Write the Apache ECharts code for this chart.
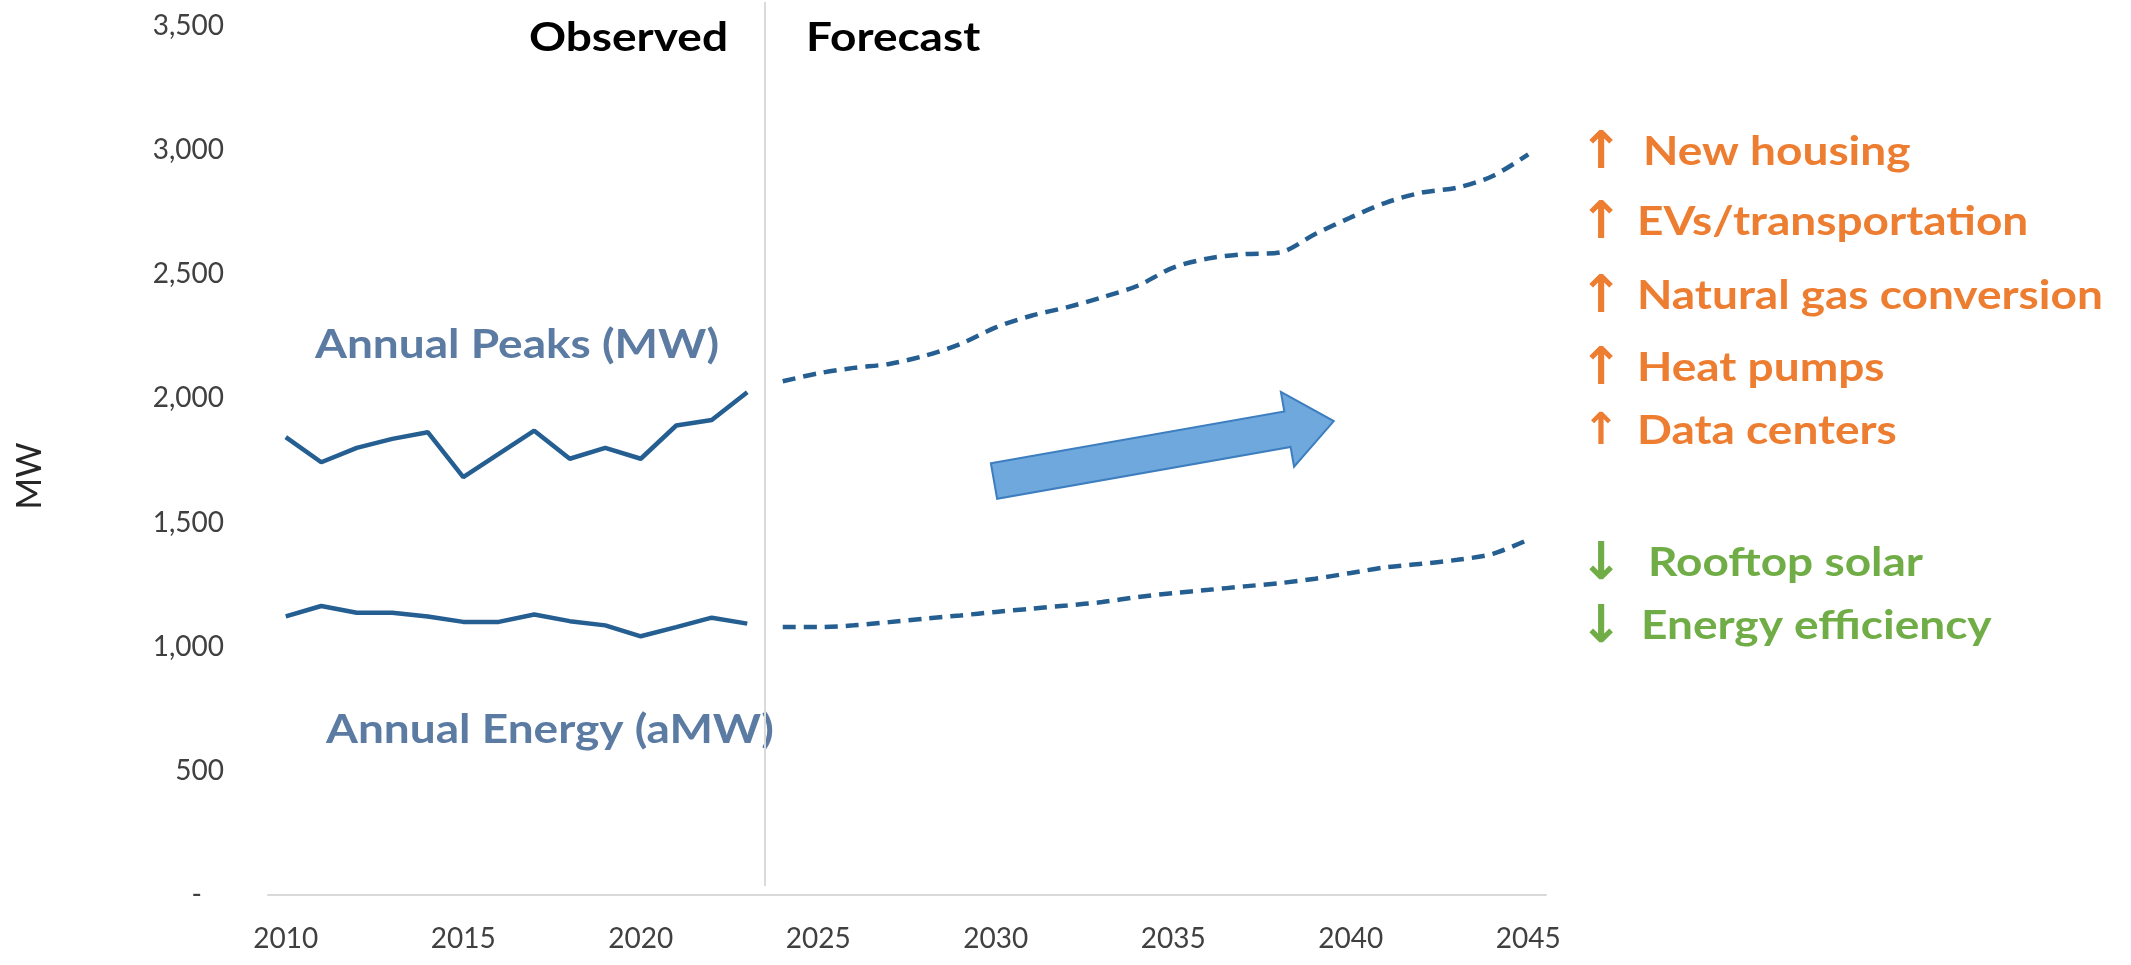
<!DOCTYPE html>
<html>
<head>
<meta charset="utf-8">
<script src="https://cdn.jsdelivr.net/npm/echarts@6/dist/echarts.min.js"></script>
<style>
  html, body { margin: 0; padding: 0; background: #fff; }
  #chart { width: 2131px; height: 965px; }
</style>
</head>
<body>
<div id="chart"></div>
<script>
// observed history
const observedYears = [2010, 2011, 2012, 2013, 2014, 2015, 2016, 2017, 2018, 2019, 2020, 2021, 2022, 2023];
const peaksObserved = [1844, 1743, 1801, 1837, 1864, 1683, 1777, 1870, 1757, 1801, 1757, 1891, 1913, 2025];
const energyObserved = [1122, 1164, 1137, 1137, 1122, 1100, 1100, 1130, 1103, 1086, 1042, 1079, 1117, 1093];

// forecast
const forecastYears = [2024, 2025, 2026, 2027, 2028, 2029, 2030, 2031, 2032, 2033, 2034,
  2035, 2036, 2037, 2038, 2039, 2040, 2041, 2042, 2043, 2044, 2045];
const peaksForecast = [2069, 2101, 2123, 2139, 2172, 2219, 2286, 2333, 2367, 2407, 2454,
  2527, 2564, 2581, 2588, 2662, 2729, 2789, 2829, 2849, 2896, 2983];
const energyForecast = [1079, 1079, 1086, 1099, 1113, 1126, 1140, 1153, 1166, 1180, 1200,
  1216, 1229, 1243, 1256, 1274, 1297, 1320, 1334, 1350, 1374, 1431];

const yearTicks = [2010, 2015, 2020, 2025, 2030, 2035, 2040, 2045];
const splitYear = 2023.5;

const driversUp = ['New housing', 'EVs/transportation', 'Natural gas conversion', 'Heat pumps', 'Data centers'];
const driversDown = ['Rooftop solar', 'Energy efficiency'];

const FONT = 'Lato, "Open Sans", sans-serif';
const lineColor = '#255e91';
const labelBlue = '#5b7ba3';
const orange = '#ed7d31';
const green = '#70ad47';
const WIDEN = 1.15; // the reference lettering is wider than Lato

function pairs(xs, ys) {
  return xs.map((x, i) => [x, ys[i]]);
}

function label(text, x, y, color, align, size) {
  return {
    type: 'text', x: x, y: y, scaleX: WIDEN,
    style: { text: text, font: 'bold ' + (size || 40) + 'px ' + FONT, fill: color, align: align, verticalAlign: 'middle' }
  };
}

function arrowGlyph(ch, y, color, size) {
  return {
    type: 'text', x: 1601, y: y + 2,
    style: { text: ch, font: 'bold ' + size + 'px "DejaVu Sans"', fill: color, align: 'center', verticalAlign: 'middle' }
  };
}

const chart = echarts.init(document.getElementById('chart'));

// positions of the driver list, top to bottom
const upY = [152, 222, 296, 368, 431];
const downY = [563, 626];

const driverTexts = [];
driversUp.forEach((t, i) => {
  driverTexts.push(arrowGlyph('↑', upY[i], orange, i === 4 ? 44 : 52));
  driverTexts.push(label(t, i === 0 ? 1643 : 1637, upY[i], orange, 'left'));
});
driversDown.forEach((t, i) => {
  driverTexts.push(arrowGlyph('↓', downY[i], green, 52));
  driverTexts.push(label(t, i === 0 ? 1648 : 1641, downY[i], green, 'left'));
});

const option = {
  animation: false,
  backgroundColor: '#fff',
  grid: { left: 268, right: 585, top: 26, bottom: 70 },
  xAxis: {
    type: 'value',
    min: 2009.5,
    max: 2045.5,
    axisLine: { show: true, lineStyle: { color: '#d9d9d9', width: 2 } },
    axisTick: { show: false },
    splitLine: { show: false },
    axisLabel: {
      customValues: yearTicks,
      color: '#404040',
      fontSize: 28,
      fontFamily: FONT,
      margin: 30,
      formatter: v => String(v)
    }
  },
  yAxis: {
    type: 'value',
    min: 0,
    max: 3500,
    interval: 500,
    axisLine: { show: false },
    axisTick: { show: false },
    splitLine: { show: false },
    axisLabel: {
      color: '#404040',
      fontSize: 28,
      fontFamily: FONT,
      margin: 44,
      formatter: v => v === 0 ? '{z|-}' : v.toLocaleString('en-US'),
      rich: { z: { fontSize: 28, fontFamily: FONT, color: '#404040', padding: [0, 22, 0, 0] } }
    }
  },
  series: [
    {
      name: 'Annual Peaks (MW)', type: 'line', data: pairs(observedYears, peaksObserved),
      symbol: 'none', lineStyle: { color: lineColor, width: 4.5 }
    },
    {
      name: 'Annual Energy (aMW)', type: 'line', data: pairs(observedYears, energyObserved),
      symbol: 'none', lineStyle: { color: lineColor, width: 4.5 }
    },
    {
      name: 'Peaks forecast', type: 'line', data: pairs(forecastYears, peaksForecast),
      symbol: 'none', smooth: 0.3, lineStyle: { color: lineColor, width: 4.5, type: [13, 8] }
    },
    {
      name: 'Energy forecast', type: 'line', data: pairs(forecastYears, energyForecast),
      symbol: 'none', smooth: 0.3, lineStyle: { color: lineColor, width: 4.5, type: [13, 8] }
    }
  ],
  graphic: [
    { type: 'text', x: 30, y: 476, rotation: Math.PI / 2, style: { text: 'MW', font: '34px ' + FONT, fill: '#262626', align: 'center', verticalAlign: 'middle' } },
    label('Observed', 728, 38, '#000', 'right'),
    label('Forecast', 806, 38, '#000', 'left'),
    label('Annual Peaks (MW)', 315, 345, labelBlue, 'left'),
    label('Annual Energy (aMW)', 326, 730, labelBlue, 'left'),
    {
      // big trend arrow
      type: 'polygon', x: 994, y: 481, rotation: 10 * Math.PI / 180,
      shape: { points: [[0, -18], [298, -18], [298, -38], [345, 0], [298, 38], [298, 18], [0, 18]] },
      style: { fill: '#6fa8dc', stroke: '#3d7ebf', lineWidth: 2 }
    }
  ].concat(driverTexts)
};

chart.setOption(option);

// divider between observed and forecast, reaching above the plot
const splitX = chart.convertToPixel({ xAxisIndex: 0 }, splitYear);
chart.setOption({
  graphic: option.graphic.concat([{
    type: 'line', shape: { x1: splitX, y1: 2, x2: splitX, y2: 886 },
    style: { stroke: '#dadada', lineWidth: 2 }
  }])
});
</script>
</body>
</html>
